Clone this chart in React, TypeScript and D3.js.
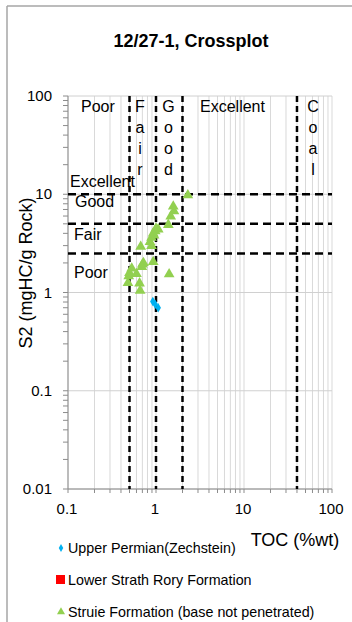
import React from 'react';
import * as d3 from 'd3';

// TOC (%wt) vs S2 (mgHC/g Rock)
const upperPermianToc = [0.92, 0.98, 1.06];
const upperPermianS2 = [0.81, 0.76, 0.7];

const lowerStrathToc: number[] = [];
const lowerStrathS2: number[] = [];

const struieToc = [
  2.3, 1.57, 1.6, 1.47, 1.38, 1.06, 0.98, 0.93, 1.0, 0.95, 0.89, 0.855, 0.89, 0.67,
  0.93, 0.7, 0.72, 0.69, 0.53, 0.5, 0.6, 0.49, 1.41, 0.48, 0.65, 0.66,
];
const struieS2 = [
  10.0, 7.7, 6.9, 6.1, 5.0, 4.5, 4.3, 4.1, 4.6, 3.9, 3.7, 3.35, 3.05, 3.0,
  2.1, 1.98, 2.05, 1.86, 1.8, 1.62, 1.58, 1.5, 1.57, 1.28, 1.27, 1.07,
];

const xTickLabels = ['0.1', '1', '10', '100'];
const yTickLabels = ['0.01', '0.1', '1', '10', '100'];

const tocCutoffs = [0.5, 1, 2, 40];
const s2Cutoffs = [2.5, 5, 10];

const legendNames = [
  'Upper Permian(Zechstein)',
  'Lower Strath Rory Formation',
  'Struie Formation (base not penetrated)',
];

const W = 352;
const H = 622;
const font = '"Liberation Sans", Arial, sans-serif';
const green = '#92D050';
const blue = '#00B0F0';
const red = '#FF0000';

const x = d3.scaleLog().domain([0.1, 100]).range([68, 332]);
const y = d3.scaleLog().domain([0.01, 100]).range([489, 96]);

const triangle = d3.symbol().type(d3.symbolTriangle).size(50);
const diamond = d3.symbol().type(d3.symbolDiamond).size(26);

function Letters({ word, cx, top }: { word: string; cx: number; top: number }) {
  return (
    <g>
      {word.split('').map((ch, i) => (
        <text key={i} x={cx} y={top + i * 21} textAnchor="middle" fontSize={16}>
          {ch}
        </text>
      ))}
    </g>
  );
}

export default function App() {
  const minorX = x.ticks();
  const minorY = y.ticks();
  const [x0, x1] = x.range();
  const [y0, y1] = y.range();

  return (
    <svg
      width={W}
      height={H}
      style={{ position: 'absolute', left: 0, top: 0, background: '#fff' }}
      fontFamily={font}
    >
      {/* outer frame */}
      <line x1={7} y1={6} x2={W} y2={6} stroke="#a6a6a6" strokeWidth={1.5} />
      <line x1={7} y1={6} x2={7} y2={H} stroke="#a6a6a6" strokeWidth={1.5} />

      <text x={191} y={47} textAnchor="middle" fontSize={18} fontWeight="bold">
        12/27-1, Crossplot
      </text>

      {/* vertical grid, every 1..9 of each decade */}
      {minorX.map((v, i) => (
        <line key={'gx' + i} x1={x(v)} x2={x(v)} y1={y1} y2={y0} stroke="#d9d9d9" />
      ))}
      {/* horizontal grid, decades only */}
      {yTickLabels.map((t) => (
        <line key={'gy' + t} x1={x0} x2={x1} y1={y(+t)} y2={y(+t)} stroke="#d0d0d0" />
      ))}

      {/* axes */}
      <line x1={x0} x2={x0} y1={y1} y2={y0} stroke="#8c8c8c" />
      <line x1={x0} x2={x1} y1={y0} y2={y0} stroke="#8c8c8c" />
      {minorY.map((v, i) => (
        <line key={'ty' + i} x1={x0 - 5} x2={x0} y1={y(v)} y2={y(v)} stroke="#8c8c8c" />
      ))}
      {minorX.map((v, i) => (
        <line key={'tx' + i} x1={x(v)} x2={x(v)} y1={y0} y2={y0 + 4} stroke="#8c8c8c" />
      ))}

      {yTickLabels.map((t) => (
        <text key={'ly' + t} x={52} y={y(+t) + 5} textAnchor="end" fontSize={15}>
          {t}
        </text>
      ))}
      {xTickLabels.map((t) => (
        <text key={'lx' + t} x={x(+t) - 1} y={514} textAnchor="middle" fontSize={15}>
          {t}
        </text>
      ))}

      <text x={295} y={546} textAnchor="middle" fontSize={18}>
        TOC (%wt)
      </text>
      <text
        transform={`translate(32,273) rotate(-90)`}
        textAnchor="middle"
        fontSize={18}
      >
        S2 (mgHC/g Rock)
      </text>

      {/* maturity class labels */}
      <text x={81} y={112} fontSize={16}>Poor</text>
      <Letters word="Fair" cx={140} top={112} />
      <Letters word="Good" cx={168.5} top={112} />
      <text x={200} y={112} fontSize={16}>Excellent</text>
      <Letters word="Coal" cx={313} top={112} />

      <text x={70} y={y(10) - 7} fontSize={16}>Excellent</text>
      <text x={75} y={y(10) + 13} fontSize={16}>Good</text>
      <text x={74} y={240} fontSize={16}>Fair</text>
      <text x={74} y={278} fontSize={16}>Poor</text>

      {/* cut-off lines */}
      {tocCutoffs.map((v) => (
        <line
          key={'cx' + v}
          x1={x(v)}
          x2={x(v)}
          y1={y1}
          y2={y0}
          stroke="#000"
          strokeWidth={2.5}
          strokeDasharray="6,4"
        />
      ))}
      {s2Cutoffs.map((v) => (
        <line
          key={'cy' + v}
          x1={x0}
          x2={x1}
          y1={y(v)}
          y2={y(v)}
          stroke="#000"
          strokeWidth={2.5}
          strokeDasharray="8,5"
        />
      ))}

      {/* points */}
      {struieToc.map((v, i) => (
        <path
          key={'s' + i}
          d={triangle()!}
          transform={`translate(${x(v)},${y(struieS2[i]) + 1})`}
          fill={green}
        />
      ))}
      {lowerStrathToc.map((v, i) => (
        <rect
          key={'l' + i}
          x={x(v) - 3.5}
          y={y(lowerStrathS2[i]) - 3.5}
          width={7}
          height={7}
          fill={red}
        />
      ))}
      {upperPermianToc.map((v, i) => (
        <path
          key={'u' + i}
          d={diamond()!}
          transform={`translate(${x(v)},${y(upperPermianS2[i])})`}
          fill={blue}
        />
      ))}

      {/* legend */}
      <path d={d3.symbol().type(d3.symbolDiamond).size(18)()!} transform="translate(61,548)" fill={blue} />
      <rect x={56} y={575} width={9} height={9} fill={red} />
      <path d={d3.symbol().type(d3.symbolTriangle).size(28)()!} transform="translate(61,612)" fill={green} />
      {legendNames.map((n, i) => (
        <text key={n} x={68} y={553 + i * 32} fontSize={14.3}>
          {n}
        </text>
      ))}
    </svg>
  );
}
